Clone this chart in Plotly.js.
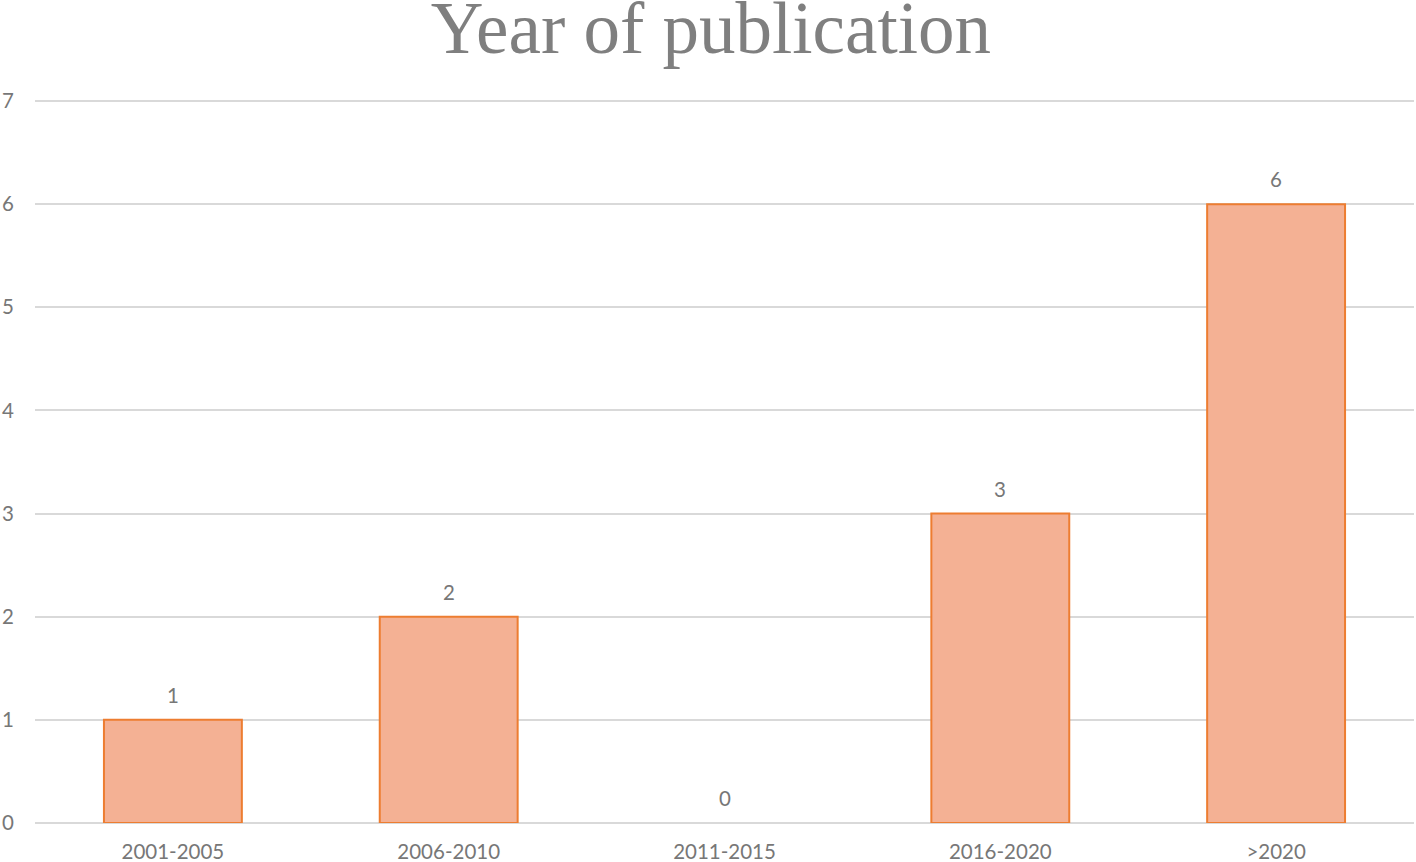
<!DOCTYPE html>
<html>
<head>
<meta charset="utf-8">
<script src="https://cdn.plot.ly/plotly-3.0.1.min.js"></script>
<style>
  html, body { margin: 0; padding: 0; background: #fff; }
  #chart { width: 1416px; height: 862px; }
</style>
</head>
<body>
<div id="chart"></div>
<script>
const periods = ['2001-2005', '2006-2010', '2011-2015', '2016-2020', '>2020'];
const counts = [1, 2, 0, 3, 6];
const yTicks = [0, 1, 2, 3, 4, 5, 6, 7];

const gray = '#777777';
const labelFont = { family: 'Lato, sans-serif', size: 20.5, color: gray };

// Excel-style bars: no outline on a zero-height bar
const barTrace = {
    type: 'bar',
    x: periods,
    y: counts,
    width: 0.5,
    marker: {
        color: '#f4b194',
        line: { color: '#ed7d31', width: counts.map(v => v > 0 ? 2 : 0) },
    },
    hoverinfo: 'x+y',
};

// value labels sit a bit higher above the bars than plotly's "outside" text
const valueLabels = periods.map((p, i) => ({
    x: p,
    y: counts[i],
    xref: 'x',
    yref: 'y',
    text: String(counts[i]),
    showarrow: false,
    yanchor: 'middle',
    yshift: 25,
    font: labelFont,
}));

const layout = {
    width: 1416,
    height: 862,
    margin: { l: 35, r: 2, t: 100, b: 39 },
    paper_bgcolor: '#ffffff',
    plot_bgcolor: '#ffffff',
    showlegend: false,
    title: {
        text: 'Year of publication',
        font: { family: '"Liberation Serif", "Times New Roman", serif', size: 73, color: '#7f7f7f' },
        x: 0.502,
        xanchor: 'center',
        y: 0.968,
        yanchor: 'middle',
        yref: 'container',
    },
    annotations: valueLabels,
    xaxis: {
        type: 'category',
        showgrid: false,
        showline: false,
        ticks: '',
        ticklabelstandoff: 14,
        tickfont: labelFont,
    },
    yaxis: {
        range: [0, 7.01],
        tickvals: yTicks,
        showgrid: true,
        gridcolor: '#d9d9d9',
        gridwidth: 2,
        zeroline: true,
        zerolinecolor: '#d9d9d9',
        zerolinewidth: 2,
        showline: false,
        ticks: '',
        ticklabelstandoff: 20,
        tickfont: labelFont,
    },
};

Plotly.newPlot('chart', [barTrace], layout, { displayModeBar: false, staticPlot: true });
</script>
</body>
</html>
